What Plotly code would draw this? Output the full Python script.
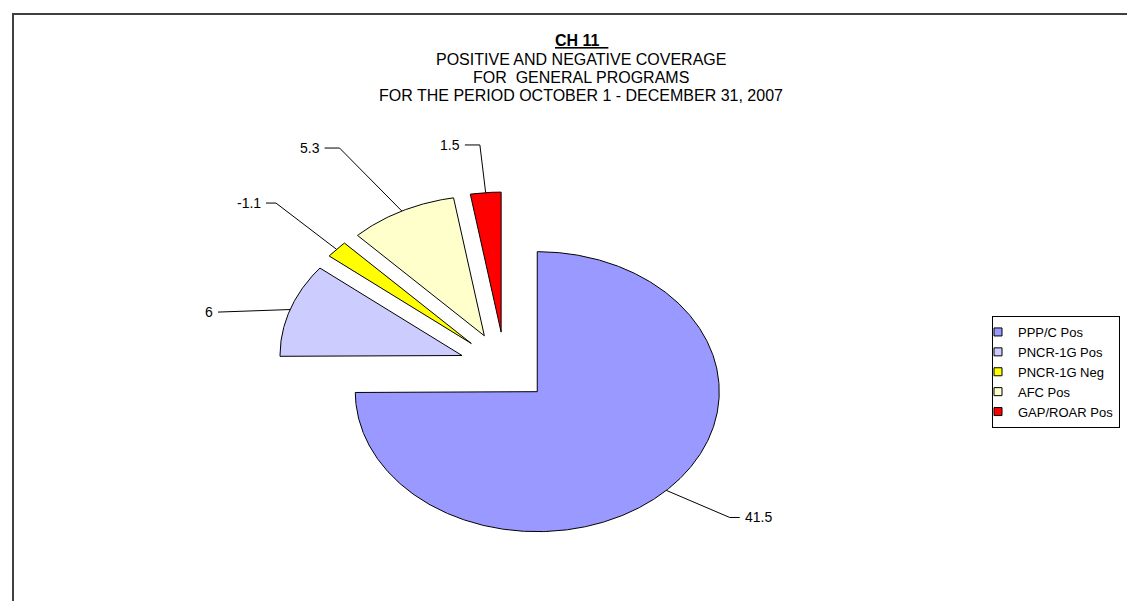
import numpy as np
import plotly.graph_objects as go

# ---------------- data ----------------
CATEGORIES = ["PPP/C Pos", "PNCR-1G Pos", "PNCR-1G Neg", "AFC Pos", "GAP/ROAR Pos"]
VALUES = [41.5, 6, -1.1, 5.3, 1.5]
COLORS = ["#9999FF", "#CCCCFF", "#FFFF00", "#FFFFCC", "#FF0000"]
TITLE_LINES = [
    "<b><u>CH 11&nbsp;&nbsp;</u></b>",
    "POSITIVE AND NEGATIVE COVERAGE",
    "FOR&nbsp; GENERAL PROGRAMS",
    "FOR THE PERIOD OCTOBER 1 - DECEMBER 31, 2007",
]

# ---------------- layout constants ----------------
W, H = 1135, 601
CX, CY = 497, 359          # pie centre in px
RX, RY = 182, 140          # pie radii in px (stretched pie)
EXPLODE = 0.25             # explosion as fraction of radius
FONT = "Arial, 'Liberation Sans', sans-serif"
TITLE_TOP, TITLE_STEP, TITLE_X = 33, 18.3, 573
# label placement: (angle shift from slice bisector in deg, radius of elbow, horizontal tick px)
LABEL_PLACE = [(-3.8, 1.637, 10), (-5.2, 1.625, 0), (0.7, 1.719, -10),
               (-3.2, 1.809, -15), (-0.1, 1.592, -15)]

sizes = np.abs(np.array(VALUES, dtype=float))
spans = sizes / sizes.sum() * 360.0
ends = np.cumsum(spans)
starts = ends - spans
mids = (starts + ends) / 2


def pt(theta_deg, r):
    t = np.radians(theta_deg)
    return r * np.sin(t), r * np.cos(t)


fig = go.Figure()

# slices
for cat, s, e, m, col in zip(CATEGORIES, starts, ends, mids, COLORS):
    ox, oy = pt(m, EXPLODE)
    th = np.linspace(s, e, max(int((e - s) * 2), 8))
    ax_, ay_ = pt(th, 1.0)
    xs = np.concatenate([[ox], ox + ax_, [ox]])
    ys = np.concatenate([[oy], oy + ay_, [oy]])
    fig.add_trace(go.Scatter(x=xs, y=ys, mode="lines", fill="toself", fillcolor=col,
                             line=dict(color="black", width=1), showlegend=False,
                             name=cat, hoverinfo="name"))

# legend entries
for cat, col in zip(CATEGORIES, COLORS):
    fig.add_trace(go.Scatter(x=[None], y=[None], mode="markers", name=cat,
                             marker=dict(symbol="square", size=8, color=col,
                                         line=dict(color="black", width=1))))

annotations = []
# title lines
for i, line in enumerate(TITLE_LINES):
    annotations.append(dict(x=TITLE_X / W, y=1 - (TITLE_TOP + i * TITLE_STEP) / H,
                            xref="paper", yref="paper", text=line, showarrow=False,
                            xanchor="center", yanchor="middle",
                            font=dict(family=FONT, size=16, color="black")))

# data labels with leader lines
for v, m, (dth, rr, tick) in zip(VALUES, mids, LABEL_PLACE):
    anc = pt(m, 1.0 + EXPLODE)
    elb = pt(m + dth, rr)
    endx = elb[0] + tick / RX
    fig.add_trace(go.Scatter(x=[anc[0], elb[0], endx], y=[anc[1], elb[1], elb[1]],
                             mode="lines", line=dict(color="black", width=1),
                             showlegend=False, hoverinfo="skip"))
    right = tick > 0 or (tick == 0 and elb[0] > 0)
    annotations.append(dict(x=endx, y=elb[1], xref="x", yref="y", text=f"{v:g}",
                            showarrow=False, xanchor="left" if right else "right",
                            yanchor="middle", xshift=3 if right else -3,
                            font=dict(family=FONT, size=14, color="black")))

fig.update_layout(
    width=W, height=H, autosize=False,
    margin=dict(l=0, r=0, t=0, b=0),
    paper_bgcolor="white", plot_bgcolor="white",
    xaxis=dict(range=[(0 - CX) / RX, (W - CX) / RX], visible=False, fixedrange=True),
    yaxis=dict(range=[(CY - H) / RY, CY / RY], visible=False, fixedrange=True),
    showlegend=True,
    legend=dict(x=984 / W, xanchor="left", y=1 - 308 / H, yanchor="top",
                bordercolor="black", borderwidth=1, bgcolor="white",
                font=dict(family=FONT, size=13, color="black"),
                itemwidth=30, indentation=-15, tracegroupgap=0),
    annotations=annotations,
    shapes=[dict(type="rect", xref="paper", yref="paper", x0=5 / W, x1=1.05,
                 y0=-0.05, y1=1 - 6 / H, line=dict(color="#404040", width=2),
                 layer="below")],
)

fig.write_html("out.html")
